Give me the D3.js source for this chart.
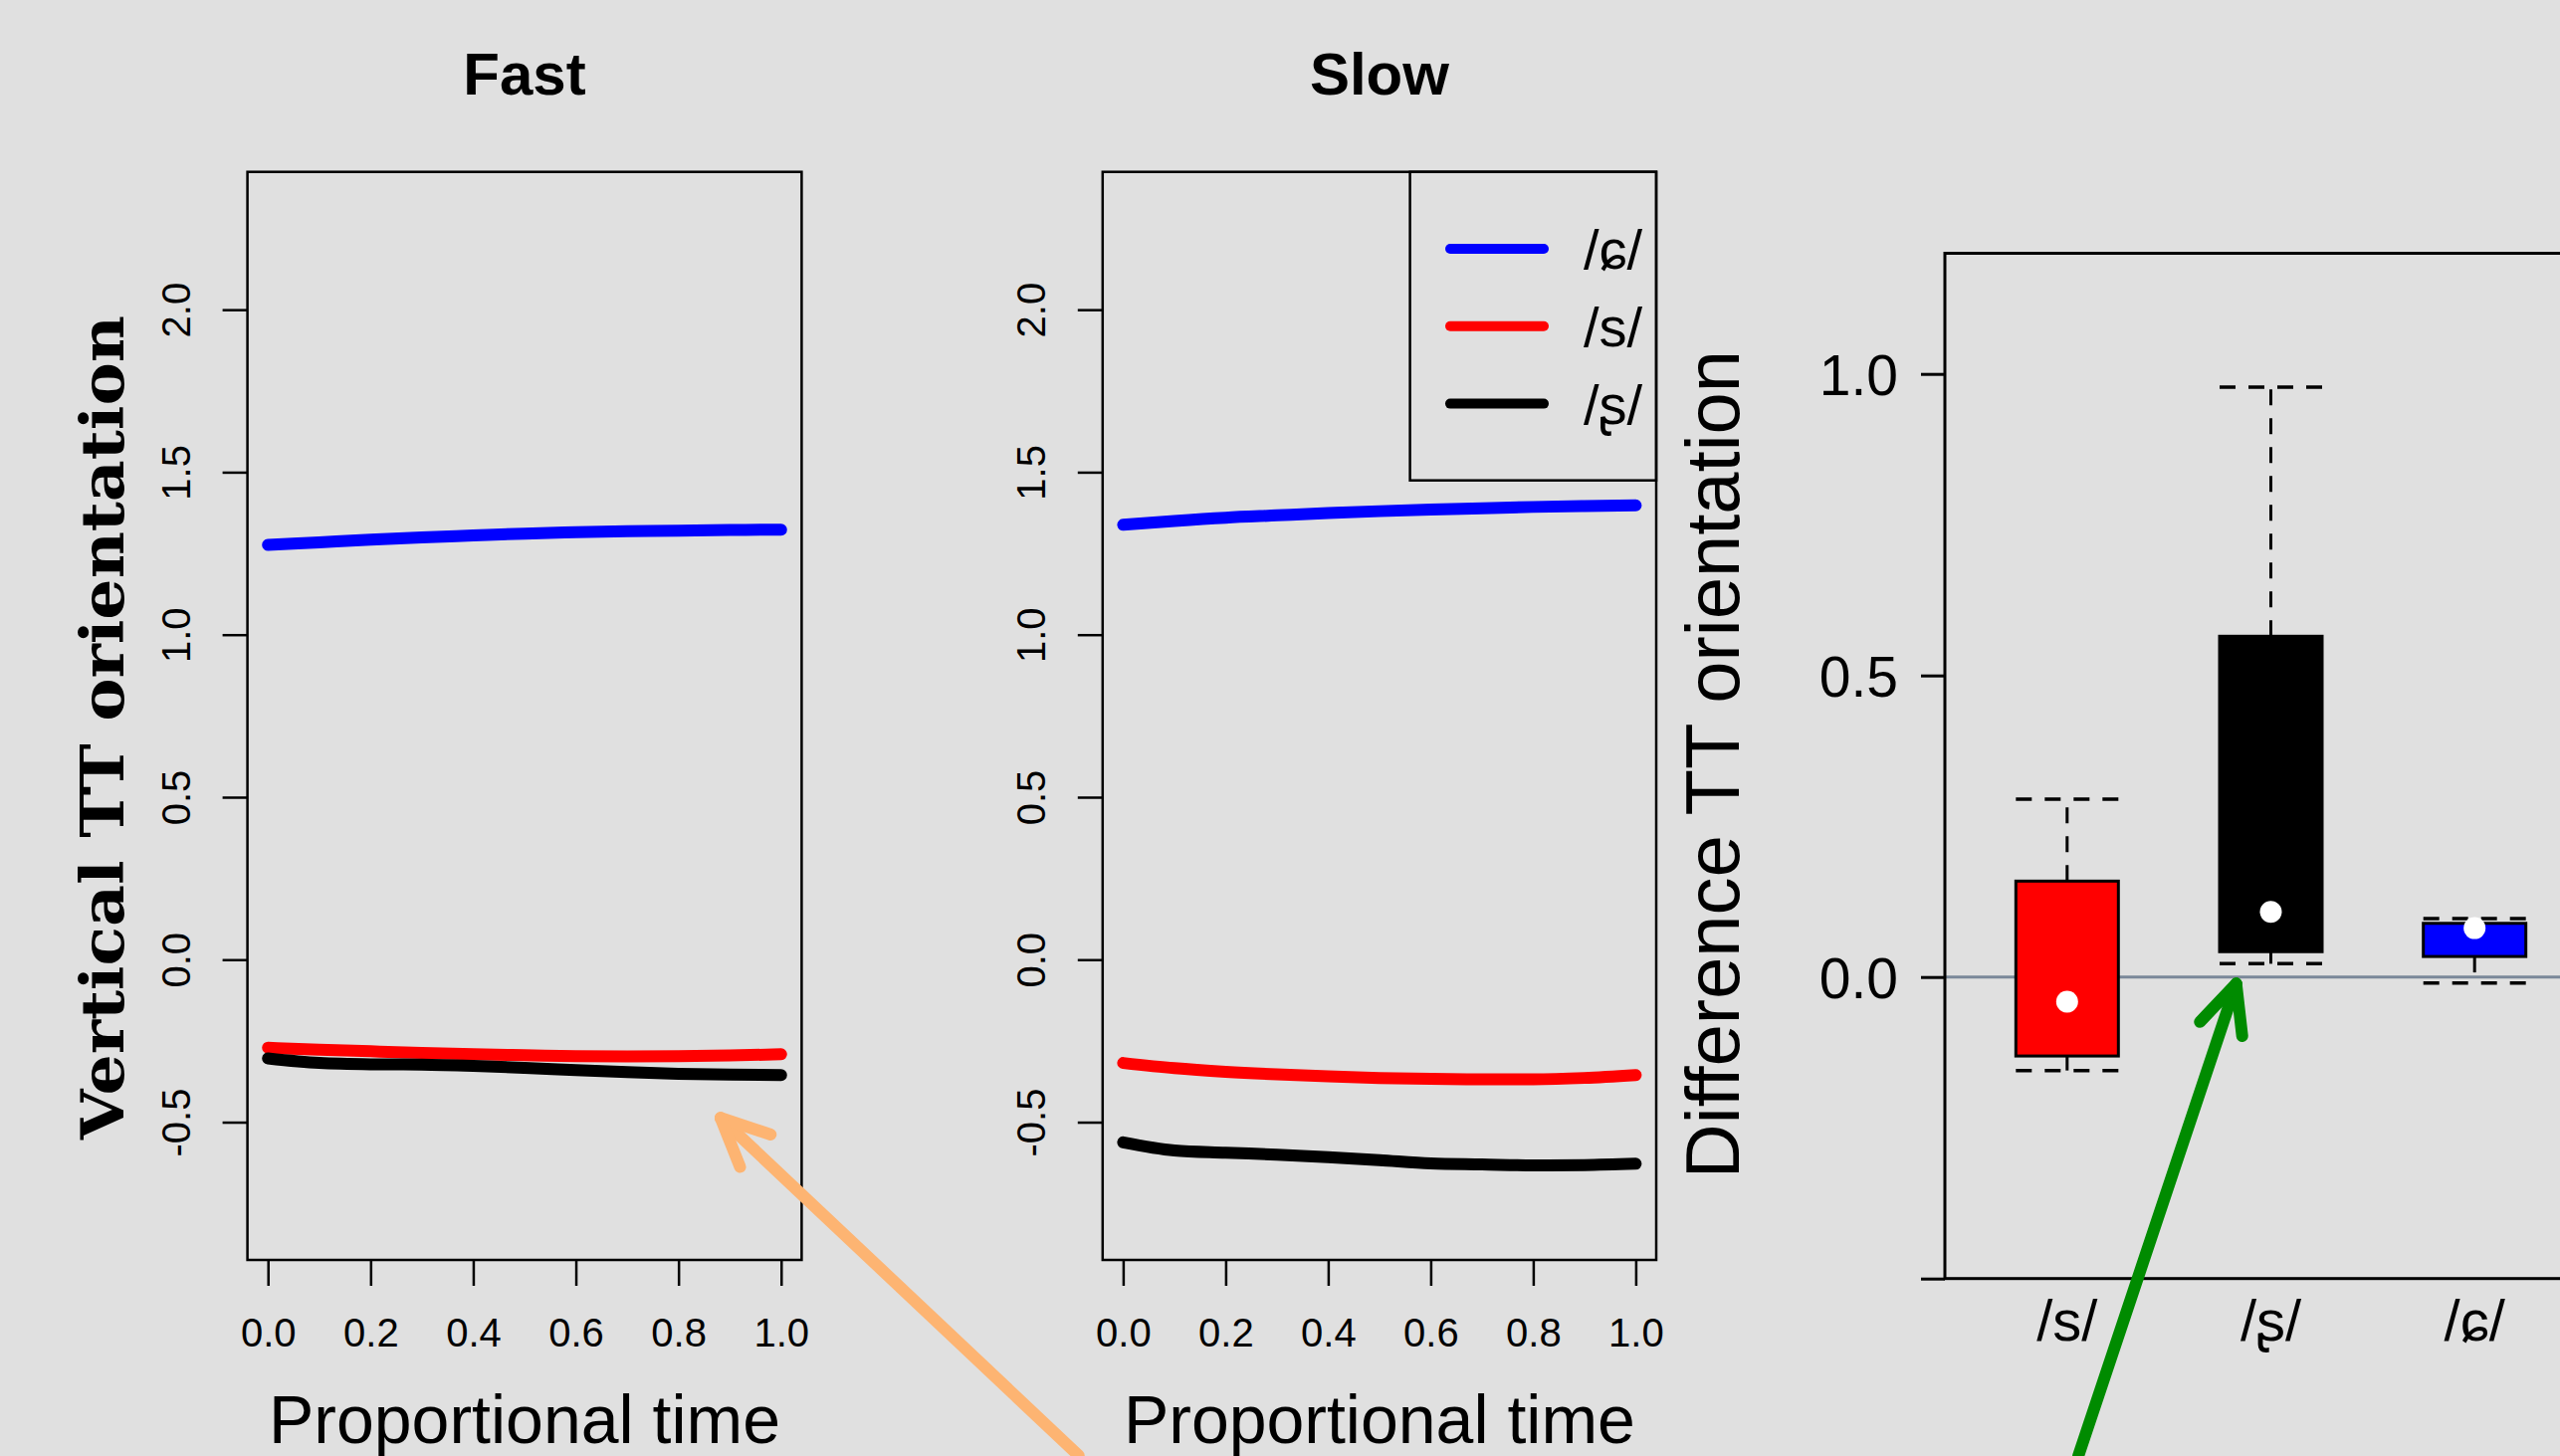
<!DOCTYPE html>
<html>
<head>
<meta charset="utf-8">
<title>Vertical TT orientation</title>
<script src="https://d3js.org/d3.v7.min.js"></script>
<style>
  body { margin: 0; background: #E0E0E0; }
  svg { display: block; }
</style>
</head>
<body>
<div id="chart"></div>
<script>
// ---- data ----
const timePoints = [0, 0.1, 0.2, 0.3, 0.4, 0.5, 0.6, 0.7, 0.8, 0.9, 1.0];

const fastAlveolopalatal = [1.276, 1.284, 1.292, 1.299, 1.305, 1.311, 1.315, 1.318, 1.320, 1.322, 1.323];
const fastAlveolar       = [-0.271, -0.277, -0.282, -0.287, -0.291, -0.294, -0.297, -0.298, -0.297, -0.295, -0.291];
const fastRetroflex      = [-0.304, -0.318, -0.322, -0.323, -0.327, -0.333, -0.340, -0.346, -0.351, -0.354, -0.355];

const slowAlveolopalatal = [1.338, 1.350, 1.360, 1.367, 1.374, 1.380, 1.385, 1.389, 1.393, 1.396, 1.398];
const slowAlveolar       = [-0.318, -0.334, -0.345, -0.353, -0.359, -0.364, -0.367, -0.368, -0.368, -0.364, -0.355];
const slowRetroflex      = [-0.562, -0.587, -0.594, -0.600, -0.608, -0.617, -0.627, -0.630, -0.633, -0.632, -0.628];

const legendLabels = ["/ɕ/", "/s/", "/ʂ/"];
const legendColors = ["#0000FF", "#FF0000", "#000000"];

const xTicks = [0, 0.2, 0.4, 0.6, 0.8, 1.0];
const yTicks = [-0.5, 0, 0.5, 1.0, 1.5, 2.0];

// boxplot of the differences
const boxCats   = ["/s/", "/ʂ/", "/ɕ/"];
const boxColors = ["#FF0000", "#000000", "#0000FF"];
const boxLow    = [-0.155, 0.022, -0.010];
const boxQ1     = [-0.131, 0.042, 0.034];
const boxQ3     = [0.159, 0.565, 0.089];
const boxHigh   = [0.295, 0.978, 0.097];
const boxMid    = [-0.041, 0.108, 0.081];
const boxTicks  = [-0.5, 0, 0.5, 1.0];
const boxTickLabels = ["", "0.0", "0.5", "1.0"];

// ---- layout ----
const W = 2572, H = 1463;
const sans = "'Liberation Sans', Arial, 'DejaVu Sans', sans-serif";

const svg = d3.select("#chart").append("svg")
  .attr("width", W).attr("height", H);
svg.append("rect").attr("width", W).attr("height", H).attr("fill", "#E0E0E0");

// shared y scale for the two trajectory panels (R style 4% padding)
const y = d3.scaleLinear().domain([-0.924, 2.424]).range([1266, 172.7]);

const panels = [
  { title: "Fast", left: 248.6, right: 805.4,
    series: [fastAlveolopalatal, fastAlveolar, fastRetroflex], legend: false },
  { title: "Slow", left: 1107.8, right: 1664,
    series: [slowAlveolopalatal, slowAlveolar, slowRetroflex], legend: true }
];

const line = d3.line().curve(d3.curveMonotoneX);

panels.forEach(function (p) {
  const x = d3.scaleLinear().domain([-0.04, 1.04]).range([p.left, p.right]);
  p.x = x;
  const g = svg.append("g");

  // data lines
  p.series.forEach(function (vals, i) {
    g.append("path")
      .attr("d", line(timePoints.map((t, k) => [x(t), y(vals[k])])))
      .attr("fill", "none")
      .attr("stroke", legendColors[i])
      .attr("stroke-width", 12)
      .attr("stroke-linecap", "round")
      .attr("stroke-linejoin", "round");
  });

  // frame
  g.append("rect")
    .attr("x", p.left).attr("y", y.range()[1])
    .attr("width", p.right - p.left).attr("height", y.range()[0] - y.range()[1])
    .attr("fill", "none").attr("stroke", "#000").attr("stroke-width", 2.5);

  // x axis
  const xa = g.append("g").attr("transform", "translate(0," + y.range()[0] + ")")
    .call(d3.axisBottom(x).tickValues(xTicks).tickSize(26).tickFormat(d => d.toFixed(1)));
  xa.select(".domain").remove();
  xa.selectAll("line").attr("stroke-width", 2.5);
  xa.selectAll("text")
    .attr("y", 87).attr("dy", 0)
    .attr("font-family", sans).attr("font-size", 40).attr("fill", "#000");

  // y axis, labels parallel to the axis
  const ya = g.append("g").attr("transform", "translate(" + p.left + ",0)")
    .call(d3.axisLeft(y).tickValues(yTicks).tickSize(25).tickFormat(d => d.toFixed(1)));
  ya.select(".domain").remove();
  ya.selectAll("line").attr("stroke-width", 2.5);
  ya.selectAll("text")
    .attr("x", 0).attr("y", -58).attr("dy", 0)
    .attr("text-anchor", "middle")
    .attr("transform", "rotate(-90)")
    .attr("font-family", sans).attr("font-size", 40).attr("fill", "#000");

  // title
  g.append("text")
    .attr("x", (p.left + p.right) / 2).attr("y", 95)
    .attr("text-anchor", "middle")
    .attr("font-family", sans).attr("font-weight", "bold").attr("font-size", 60)
    .text(p.title);

  // x label
  g.append("text")
    .attr("x", (p.left + p.right) / 2).attr("y", 1450)
    .attr("text-anchor", "middle")
    .attr("font-family", sans).attr("font-size", 68)
    .text("Proportional time");

  // legend
  if (p.legend) {
    const lg = g.append("g");
    lg.append("rect")
      .attr("x", 1416.6).attr("y", y.range()[1])
      .attr("width", p.right - 1416.6).attr("height", 310)
      .attr("fill", "none").attr("stroke", "#000").attr("stroke-width", 2.5);
    legendLabels.forEach(function (lab, i) {
      const ly = 250 + i * 77.8;
      lg.append("line")
        .attr("x1", 1457).attr("x2", 1551).attr("y1", ly).attr("y2", ly)
        .attr("stroke", legendColors[i]).attr("stroke-width", 10)
        .attr("stroke-linecap", "round");
      lg.append("text")
        .attr("x", 1591).attr("y", ly + 20)
        .attr("font-family", sans).attr("font-size", 56)
        .text(lab);
    });
  }
});

// y label of the first panel
svg.append("text")
  .attr("transform", "translate(124,731) rotate(-90)")
  .attr("text-anchor", "middle")
  .attr("font-family", "'DejaVu Serif', serif").attr("font-weight", "bold")
  .attr("font-size", 60)
  .attr("textLength", 828).attr("lengthAdjust", "spacingAndGlyphs")
  .text("Vertical TT orientation");

// ---- boxplot panel ----
const bx = d3.scaleLinear().domain([0.4, 3.6]).range([1954, 2609]);
const by = d3.scaleLinear().domain([-0.5, 1.2]).range([1284.7, 254.5]);
const halfW = 51.5;
const bg = svg.append("g");

// reference line at zero
bg.append("line")
  .attr("x1", bx(0.4)).attr("x2", bx(3.6)).attr("y1", by(0)).attr("y2", by(0))
  .attr("stroke", "#7A8899").attr("stroke-width", 3);

boxCats.forEach(function (c, i) {
  const cx = bx(i + 1);
  const dash = "16 13";
  // whiskers
  [[boxQ3[i], boxHigh[i]], [boxQ1[i], boxLow[i]]].forEach(function (w) {
    bg.append("line")
      .attr("x1", cx).attr("x2", cx).attr("y1", by(w[0])).attr("y2", by(w[1]))
      .attr("stroke", "#000").attr("stroke-width", 3).attr("stroke-dasharray", dash);
    bg.append("line")
      .attr("x1", cx - halfW).attr("x2", cx + halfW).attr("y1", by(w[1])).attr("y2", by(w[1]))
      .attr("stroke", "#000").attr("stroke-width", 3.5).attr("stroke-dasharray", dash);
  });
  // box
  bg.append("rect")
    .attr("x", cx - halfW).attr("y", by(boxQ3[i]))
    .attr("width", 2 * halfW).attr("height", by(boxQ1[i]) - by(boxQ3[i]))
    .attr("fill", boxColors[i]).attr("stroke", "#000").attr("stroke-width", 3);
  // centre point
  bg.append("circle")
    .attr("cx", cx).attr("cy", by(boxMid[i])).attr("r", 11)
    .attr("fill", "#FFFFFF");
  // category label
  bg.append("text")
    .attr("x", cx).attr("y", 1347)
    .attr("text-anchor", "middle")
    .attr("font-family", sans).attr("font-size", 58)
    .text(c);
});

// frame (runs off the right edge like the original)
bg.append("rect")
  .attr("x", bx(0.4)).attr("y", by(1.2))
  .attr("width", bx(3.6) - bx(0.4)).attr("height", by(-0.5) - by(1.2))
  .attr("fill", "none").attr("stroke", "#000").attr("stroke-width", 3);

const bya = bg.append("g").attr("transform", "translate(" + bx(0.4) + ",0)")
  .call(d3.axisLeft(by).tickValues(boxTicks).tickSize(24)
    .tickFormat((d, i) => boxTickLabels[i]));
bya.select(".domain").remove();
bya.selectAll("line").attr("stroke-width", 3);
bya.selectAll("text")
  .attr("x", -47).attr("dy", "0.36em")
  .attr("font-family", sans).attr("font-size", 57).attr("fill", "#000");

svg.append("text")
  .attr("transform", "translate(1747,768) rotate(-90)")
  .attr("text-anchor", "middle")
  .attr("font-family", sans).attr("font-size", 76)
  .text("Difference TT orientation");

// ---- annotation arrows (tip and tail in each panel's data units) ----
const arrows = [
  { color: "#FDB472", sx: panels[0].x, sy: y, tip: [0.882, -0.487], tail: [1.58, -1.526] },
  { color: "#008B00", sx: bx, sy: by, tip: [1.83, -0.011], tail: [1.055, -0.794] }
];
arrows.forEach(function (a) {
  const tx = a.sx(a.tip[0]), ty = a.sy(a.tip[1]);
  const ex = a.sx(a.tail[0]), ey = a.sy(a.tail[1]);
  const ang = Math.atan2(ey - ty, ex - tx);
  const headLen = 53, spread = 25 * Math.PI / 180;
  const ag = svg.append("g")
    .attr("stroke", a.color).attr("stroke-width", 12)
    .attr("stroke-linecap", "round").attr("fill", "none");
  ag.append("line").attr("x1", ex).attr("y1", ey).attr("x2", tx).attr("y2", ty);
  [-spread, spread].forEach(function (s) {
    ag.append("line")
      .attr("x1", tx).attr("y1", ty)
      .attr("x2", tx + headLen * Math.cos(ang + s))
      .attr("y2", ty + headLen * Math.sin(ang + s));
  });
});
</script>
</body>
</html>
